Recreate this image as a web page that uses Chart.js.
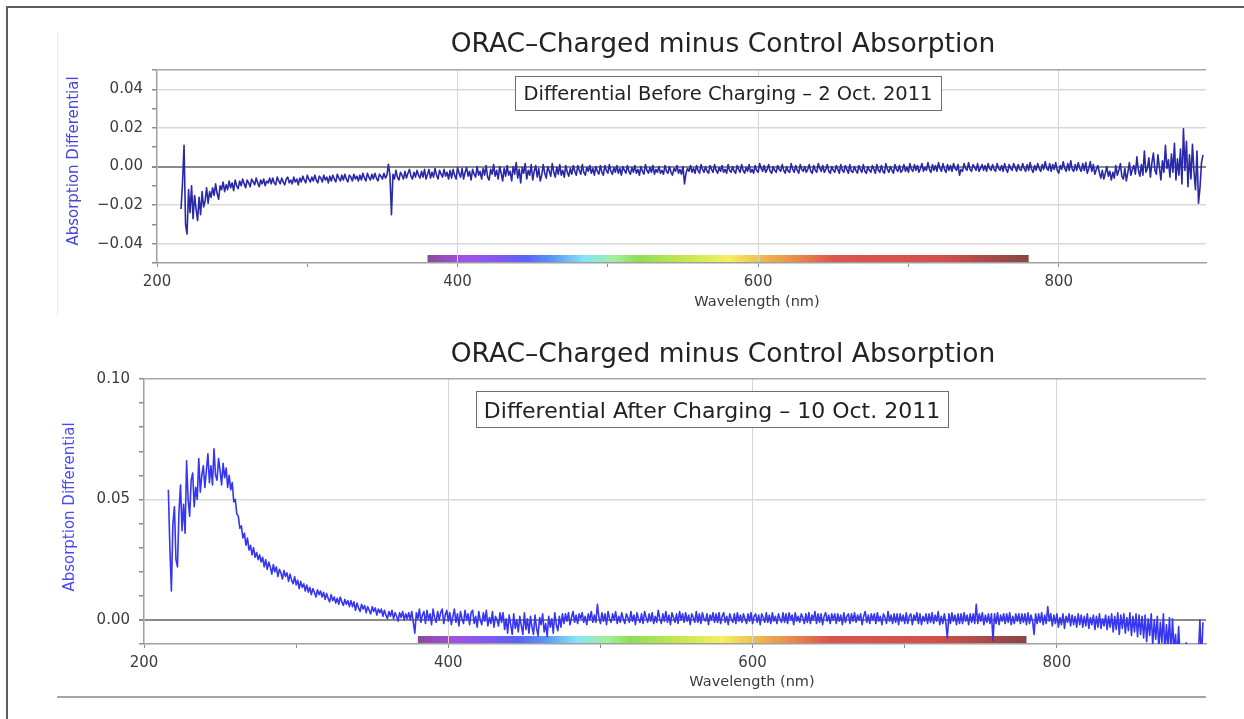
<!DOCTYPE html>
<html lang="en">
<head>
<meta charset="UTF-8">
<title>ORAC-Charged minus Control Absorption</title>
<script src="https://cdn.jsdelivr.net/npm/chart.js"></script>
<style>
    body {
        margin: 0;
        background: #ffffff;
        font-family: "DejaVu Sans", sans-serif;
    }

    .page {
        position: relative;
        width: 1244px;
        height: 719px;
        overflow: hidden;
        background: #ffffff;
    }

    canvas {
        position: absolute;
        left: 0;
    }

    #chartBefore { top: 0; }
    #chartAfter { top: 320px; }

    /* frame and crop edges of the pasted screenshots */
    .frame-top { position: absolute; left: 6px; top: 6px; width: 1238px; height: 2px; background: #5c5c5c; }
    .frame-left { position: absolute; left: 6px; top: 6px; width: 2px; height: 713px; background: #5c5c5c; }
    .crop-edge { position: absolute; left: 57px; top: 32px; width: 1px; height: 284px; background: #ececec; }
    .crop-bottom { position: absolute; left: 57px; top: 696px; width: 1149px; height: 2px; background: #a6a6a6; }
</style>
</head>
<body>
<div class="page">
    <canvas id="chartBefore" width="1244" height="320"></canvas>
    <canvas id="chartAfter" width="1244" height="399"></canvas>
    <div class="frame-top"></div>
    <div class="frame-left"></div>
    <div class="crop-edge"></div>
    <div class="crop-bottom"></div>
</div>

<script>
    // sampling grid of the spectrometer (nm)
    const wavelengthStartNm = 216;
    const wavelengthStepNm = 1;

    // Differential before charging - 2 Oct. 2011 (216..896 nm, one row = 20 nm)
    const beforeCharging = [
        -0.022, -0.008, 0.011, -0.030, -0.035, -0.012, -0.024, -0.010, -0.027, -0.015, -0.022, -0.028, -0.016, -0.025, -0.013, -0.021, -0.018, -0.011, -0.019, -0.013,
        -0.016, -0.011, -0.015, -0.009, -0.014, -0.017, -0.010, -0.012, -0.008, -0.013, -0.0095, -0.012, -0.0075, -0.011, -0.0085, -0.0125, -0.007, -0.010, -0.0115, -0.0075,
        -0.010, -0.0065, -0.009, -0.011, -0.007, -0.0085, -0.0105, -0.0065, -0.008, -0.0095, -0.006, -0.0085, -0.0105, -0.007, -0.009, -0.0065, -0.010, -0.0075, -0.0085, -0.006,
        -0.009, -0.006, -0.0085, -0.0095, -0.0055, -0.0075, -0.009, -0.006, -0.008, -0.0095, -0.0065, -0.0055, -0.0085, -0.007, -0.009, -0.0055, -0.008, -0.0065, -0.0095, -0.006,
        -0.008, -0.005, -0.007, -0.0085, -0.0045, -0.0065, -0.008, -0.0055, -0.0075, -0.0045, -0.007, -0.0085, -0.005, -0.006, -0.008, -0.0045, -0.007, -0.0055, -0.0085, -0.005,
        -0.0075, -0.0045, -0.0065, -0.008, -0.004, -0.006, -0.0075, -0.0045, -0.007, -0.004, -0.0065, -0.008, -0.0045, -0.0055, -0.0075, -0.004, -0.0065, -0.005, -0.0075, -0.0045,
        -0.007, -0.0035, -0.006, -0.0075, -0.0035, -0.0055, -0.007, -0.004, -0.0065, -0.0035, -0.006, -0.0075, -0.004, -0.005, -0.0065, -0.0035, -0.006, -0.0045, 0.0012, -0.0045,
        -0.025, -0.004, -0.0065, -0.002, -0.0055, -0.007, -0.003, -0.0045, -0.0065, -0.0025, -0.006, -0.0035, -0.0015, -0.005, -0.0065, -0.003, -0.0055, -0.002, -0.0045, -0.006,
        -0.0025, -0.0055, -0.0015, -0.0065, -0.004, -0.0015, -0.006, -0.003, -0.0055, -0.001, -0.0045, -0.0065, -0.002, -0.004, -0.0055, -0.0015, -0.005, -0.003, -0.0065, -0.002,
        -0.006, -0.0015, -0.0045, -0.0065, -0.0005, -0.0035, -0.0055, -0.001, -0.0065, -0.003, -0.0005, -0.005, -0.0025, -0.007, -0.0015, -0.004, -0.0055, 0.0, -0.0045, -0.0025,
        -0.0065, -0.001, -0.0045, 0.0005, -0.0055, -0.007, -0.0015, -0.004, 0.001, -0.005, -0.002, -0.0065, 0.0, -0.0035, -0.0075, -0.001, -0.005, 0.0005, -0.0045, -0.0025,
        -0.0075, 0.0, -0.004, 0.002, -0.006, -0.0015, -0.0085, -0.0005, -0.0035, 0.0015, -0.0065, -0.002, -0.0045, 0.001, -0.007, -0.0025, 0.0005, -0.0055, -0.001, -0.0075,
        -0.0045, 0.001, -0.0035, -0.006, 0.0, -0.0025, -0.005, 0.0015, -0.003, -0.0055, -0.0005, -0.004, 0.001, -0.0045, -0.002, -0.0055, 0.0005, -0.003, -0.005, -0.001,
        -0.004, 0.0005, -0.0025, -0.0045, 0.0005, -0.002, -0.004, 0.001, -0.003, -0.0045, -0.0005, -0.0025, 0.0005, -0.0035, -0.001, -0.0045, 0.0, -0.0025, -0.004, 0.0005,
        -0.003, -0.0045, 0.0005, -0.002, -0.0035, 0.001, -0.0025, -0.004, -0.0005, -0.003, 0.0005, -0.0035, -0.001, -0.0045, 0.0, -0.002, -0.0035, 0.0005, -0.0025, -0.004,
        -0.0005, -0.003, 0.0005, -0.0035, -0.0015, -0.0045, 0.0, -0.0025, -0.004, 0.001, -0.002, -0.0035, -0.0005, -0.003, 0.0005, -0.004, -0.0015, -0.003, 0.0, -0.0035,
        -0.002, -0.004, 0.0005, -0.0025, -0.0035, 0.0, -0.003, -0.0045, -0.001, -0.0025, 0.0005, -0.0035, -0.0015, -0.004, 0.0, -0.009, -0.0035, -0.001, -0.0025, 0.0005,
        -0.003, -0.001, -0.0035, 0.0005, -0.002, -0.0035, 0.001, -0.0015, -0.003, 0.0, -0.0025, -0.0035, 0.0005, -0.0015, -0.003, 0.001, -0.002, -0.0035, -0.0005, -0.0025,
        0.0005, -0.003, -0.0015, -0.0035, 0.001, -0.002, -0.003, 0.0, -0.0025, -0.0035, 0.0005, -0.0015, -0.003, 0.001, -0.002, -0.0035, -0.0005, -0.0025, 0.001, -0.003,
        -0.0015, -0.0035, 0.0005, -0.002, -0.003, 0.0015, -0.001, -0.0025, 0.0005, -0.003, -0.0015, 0.001, -0.0025, -0.0035, 0.0, -0.002, -0.003, 0.0005, -0.0015, -0.0025,
        0.001, -0.002, -0.0035, 0.0, -0.0025, -0.003, 0.0015, -0.0015, -0.003, 0.0005, -0.002, -0.0035, 0.001, -0.0015, -0.0025, 0.0, -0.003, -0.0015, 0.001, -0.0025,
        -0.0035, 0.0005, -0.002, -0.003, 0.0015, -0.001, -0.0025, 0.0005, -0.003, -0.0015, 0.001, -0.0025, -0.0035, 0.0, -0.002, -0.003, 0.0005, -0.0015, -0.0035, 0.001,
        -0.002, -0.003, 0.0005, -0.0015, -0.0035, 0.001, -0.0025, -0.003, 0.0, -0.002, -0.0035, 0.0005, -0.0015, -0.003, 0.001, -0.0025, -0.0035, 0.0, -0.002, -0.003,
        0.0005, -0.0015, -0.0035, 0.001, -0.002, -0.003, 0.0005, -0.0025, -0.0035, 0.0015, -0.0015, -0.003, 0.0, -0.002, -0.0035, 0.001, -0.0015, -0.0025, 0.0005, -0.003,
        -0.002, 0.001, -0.0025, -0.0005, -0.003, 0.0015, -0.0015, -0.0025, 0.001, -0.002, 0.0005, -0.003, -0.001, 0.0015, -0.0025, -0.0005, -0.002, 0.002, -0.0015, -0.003,
        0.001, -0.002, 0.0005, -0.0025, 0.002, -0.001, -0.0025, 0.0015, -0.0015, -0.003, 0.001, -0.002, 0.0005, -0.0025, 0.0015, -0.001, -0.002, 0.001, -0.0045, -0.0015,
        -0.0025, 0.0015, -0.001, -0.002, 0.002, -0.0015, -0.0025, 0.001, -0.0005, -0.002, 0.0015, -0.0025, -0.001, 0.001, -0.002, 0.0005, -0.0025, 0.0015, -0.001, -0.002,
        0.001, -0.0015, -0.0025, 0.0015, -0.001, -0.002, 0.0005, -0.0025, 0.0015, -0.0015, -0.003, 0.001, -0.001, -0.002, 0.0015, -0.0005, -0.0025, 0.001, -0.0015, -0.002,
        0.0015, -0.001, -0.0025, 0.001, -0.002, 0.002, -0.0015, -0.003, 0.0005, -0.002, 0.0015, -0.001, -0.0025, 0.001, -0.0015, 0.0025, -0.001, -0.002, 0.0015, -0.0025,
        0.001, -0.0015, 0.002, -0.002, -0.0035, 0.0005, -0.0015, 0.0025, -0.001, -0.0025, 0.0015, -0.002, 0.003, -0.0015, -0.0025, 0.001, -0.002, 0.002, -0.001, -0.0025,
        0.0015, -0.002, 0.002, -0.0035, -0.001, 0.0025, -0.0025, 0.001, -0.004, -0.0015, 0.0005, -0.003, -0.006, -0.002, -0.0065, -0.0035, 0.0, -0.005, -0.0025, -0.007,
        -0.003, -0.006, 0.0005, -0.0045, -0.002, 0.0015, -0.005, -0.0065, -0.001, -0.0075, -0.003, 0.002, -0.0045, -0.0015, 0.0005, -0.004, 0.005, -0.002, -0.005, 0.001,
        -0.0045, 0.008, -0.003, -0.001, 0.0045, -0.0055, 0.002, 0.007, -0.002, -0.004, 0.006, -0.0005, -0.007, 0.003, -0.003, 0.011, -0.001, 0.0035, -0.0055, 0.0065,
        -0.003, 0.012, -0.007, 0.004, -0.0045, 0.009, -0.009, 0.0195, -0.002, 0.013, -0.0105, 0.006, -0.0065, 0.0115, -0.003, -0.012, 0.008, -0.019, -0.011, 0.002,
        0.006
    ];

    // Differential after charging - 10 Oct. 2011 (216..896 nm, one row = 20 nm)
    const afterCharging = [
        0.054, 0.030, 0.012, 0.040, 0.047, 0.025, 0.022, 0.045, 0.056, 0.037, 0.048, 0.036, 0.066, 0.050, 0.043, 0.058, 0.061, 0.047, 0.055, 0.050,
        0.067, 0.053, 0.060, 0.064, 0.055, 0.062, 0.069, 0.057, 0.064, 0.056, 0.071, 0.060, 0.058, 0.067, 0.062, 0.056, 0.065, 0.059, 0.063, 0.055,
        0.060, 0.054, 0.057, 0.049, 0.050, 0.044, 0.043, 0.038, 0.039, 0.034, 0.036, 0.031, 0.034, 0.029, 0.031, 0.027, 0.030, 0.026, 0.028, 0.025,
        0.027, 0.024, 0.026, 0.022, 0.025, 0.021, 0.024, 0.022, 0.019, 0.023, 0.020, 0.022, 0.018, 0.021, 0.0195, 0.017, 0.0205, 0.018, 0.0195, 0.016,
        0.019, 0.0165, 0.015, 0.018, 0.0145, 0.0165, 0.013, 0.016, 0.0135, 0.015, 0.012, 0.0145, 0.0115, 0.0135, 0.0105, 0.013, 0.0115, 0.0095, 0.0125, 0.0105,
        0.012, 0.0095, 0.0115, 0.0085, 0.011, 0.009, 0.0075, 0.0105, 0.008, 0.0095, 0.007, 0.009, 0.0065, 0.0095, 0.0075, 0.006, 0.0085, 0.0065, 0.008, 0.0055,
        0.008, 0.0055, 0.0075, 0.004, 0.007, 0.005, 0.0035, 0.0065, 0.0045, 0.006, 0.003, 0.0055, 0.004, 0.0025, 0.0055, 0.0035, 0.005, 0.002, 0.0045, 0.003,
        0.0045, 0.0015, 0.004, 0.002, 0.0005, 0.0035, 0.0015, 0.004, 0.0005, 0.003, 0.0015, -0.0005, 0.003, 0.001, 0.0035, 0.0, 0.0025, 0.0005, 0.003, 0.0,
        0.0035, -0.001, -0.0055, 0.003, 0.0005, 0.0045, -0.001, 0.002, 0.0035, -0.0015, 0.004, 0.0, 0.0025, -0.002, 0.0045, 0.001, -0.001, 0.0035, 0.0, 0.003,
        0.0045, -0.0015, 0.002, 0.004, -0.0005, 0.003, -0.002, 0.0015, 0.0045, -0.001, 0.0025, -0.0025, 0.0035, 0.0005, -0.0015, 0.004, 0.0, 0.0025, -0.002, 0.003,
        0.004, -0.0015, 0.0015, -0.003, 0.0035, 0.0, -0.002, 0.003, -0.0005, 0.004, -0.0025, 0.001, -0.0015, 0.0035, -0.003, 0.0015, 0.0, -0.0025, 0.003, -0.001,
        0.003, -0.004, 0.0005, -0.0055, 0.002, -0.002, -0.006, 0.0025, -0.0035, 0.0, -0.005, 0.0015, -0.0025, -0.006, 0.003, -0.004, 0.0005, -0.0055, 0.0015, -0.003,
        -0.006, 0.002, -0.0035, -0.0065, 0.001, -0.002, 0.0025, -0.005, -0.0015, -0.007, 0.0015, -0.003, 0.0005, -0.0055, 0.003, -0.002, -0.0045, 0.0015, -0.003, 0.0025,
        -0.0015, 0.0025, -0.0005, 0.003, -0.002, 0.001, 0.0035, -0.001, 0.002, -0.0015, 0.0025, 0.0005, 0.003, -0.001, 0.0015, -0.002, 0.0025, 0.0, 0.0035, -0.001,
        0.002, -0.001, 0.0065, 0.001, -0.0015, 0.003, -0.0005, 0.0025, -0.002, 0.0035, 0.0005, -0.001, 0.0025, 0.0, 0.0035, -0.0015, 0.0015, -0.001, 0.003, 0.0005,
        -0.0015, 0.0025, 0.001, -0.001, 0.0035, -0.0005, 0.002, -0.002, 0.003, 0.0005, -0.001, 0.0025, -0.0015, 0.0035, 0.001, -0.001, 0.0025, -0.0005, 0.003, -0.0015,
        0.0015, -0.001, 0.004, 0.0005, -0.0015, 0.0025, -0.0005, 0.0035, -0.001, 0.002, -0.002, 0.003, 0.001, -0.001, 0.0025, -0.0015, 0.0035, 0.0, 0.0025, -0.001,
        0.003, -0.0005, 0.002, -0.002, 0.0025, 0.001, -0.001, 0.0035, -0.001, 0.0025, -0.0015, 0.003, 0.0005, -0.0005, 0.0025, -0.002, 0.002, 0.0, 0.003, -0.001,
        0.0025, -0.001, 0.003, -0.0015, 0.0015, 0.003, -0.001, 0.0015, -0.002, 0.0025, 0.0005, -0.001, 0.0025, -0.0015, 0.003, -0.0005, 0.002, -0.001, 0.0025, 0.0005,
        -0.0015, 0.0025, -0.0005, 0.003, -0.0015, 0.0015, 0.0025, -0.001, 0.002, -0.002, 0.0025, 0.001, -0.001, 0.003, -0.001, 0.002, -0.0015, 0.003, -0.0005, 0.0015,
        -0.0015, 0.0025, 0.0005, -0.001, 0.003, -0.001, 0.0025, -0.0015, 0.003, 0.0, 0.002, -0.002, 0.003, -0.0005, 0.0015, -0.001, 0.0025, 0.001, -0.0015, 0.0025,
        -0.001, 0.003, -0.0015, 0.002, 0.0, 0.0035, -0.0015, 0.0025, -0.001, 0.0025, -0.002, 0.0015, 0.003, -0.0005, 0.002, -0.0015, 0.0025, 0.0, 0.0025, -0.0015,
        0.0025, -0.0005, 0.002, -0.002, 0.003, -0.001, 0.0015, 0.0025, -0.0015, 0.0025, -0.0005, 0.003, -0.001, 0.002, 0.0, 0.0025, -0.002, 0.0015, 0.0035, -0.001,
        0.002, -0.0015, 0.0025, 0.0, 0.0025, -0.0015, 0.003, -0.0005, 0.0015, -0.002, 0.0025, 0.001, -0.0015, 0.0035, -0.0005, 0.002, -0.0015, 0.0025, -0.001, 0.0025,
        -0.002, 0.0025, -0.0005, 0.002, -0.0015, 0.003, -0.0015, 0.0015, 0.0025, -0.002, 0.002, 0.0, 0.003, -0.0015, 0.0025, -0.002, 0.0015, -0.0005, 0.0025, -0.0015,
        0.0025, -0.001, 0.003, -0.0015, 0.002, -0.0005, 0.0035, -0.002, 0.0015, -0.0015, 0.0025, -0.001, -0.0075, 0.0025, -0.0015, 0.003, -0.0005, 0.002, -0.002, 0.0025,
        -0.0015, 0.0025, -0.0015, 0.003, -0.0005, 0.002, -0.002, 0.0025, -0.001, 0.0025, -0.0015, 0.0065, -0.0015, 0.0025, -0.0005, 0.003, -0.002, 0.002, -0.001, 0.0025,
        -0.0015, 0.0025, -0.0085, 0.0025, -0.0015, 0.003, -0.002, 0.002, -0.0005, 0.0025, -0.0015, 0.0025, -0.001, 0.003, -0.002, 0.0015, -0.0015, 0.0025, -0.0005, 0.0025,
        -0.0015, 0.0025, -0.001, 0.0025, -0.002, 0.003, -0.0015, 0.002, -0.0005, -0.006, 0.0025, -0.0015, 0.0025, -0.001, 0.003, -0.002, 0.002, -0.0015, 0.0055, -0.0005,
        0.0025, -0.0025, 0.002, -0.0015, 0.0025, -0.003, 0.001, -0.002, 0.0025, -0.0035, 0.0015, -0.001, 0.0025, -0.0025, 0.002, -0.002, 0.0015, -0.003, 0.0025, -0.002,
        0.002, -0.003, 0.0015, -0.0025, 0.0025, -0.0035, 0.001, -0.002, 0.002, -0.004, 0.0015, -0.003, 0.0025, -0.0035, 0.0005, -0.0025, 0.002, -0.004, 0.0015, -0.003,
        0.0025, -0.005, 0.0015, -0.004, 0.003, -0.006, 0.002, -0.0035, 0.0025, -0.0055, 0.001, -0.0045, 0.003, -0.0065, 0.0015, -0.005, 0.0025, -0.007, 0.002, -0.006,
        0.0015, -0.0075, 0.002, -0.009, 0.0005, -0.0065, 0.0025, -0.0105, 0.0, -0.008, 0.0015, -0.012, -0.001, -0.0095, 0.0025, -0.0135, -0.002, -0.011, 0.001, -0.014,
        0.0005, -0.013, -0.006, -0.016, -0.0028, -0.015, -0.018, -0.012, -0.016, -0.0095, -0.017, -0.018, -0.016, -0.015, -0.017, -0.016, -0.018, -0.015, 0.0, -0.017,
        -0.001
    ];

    // axes
    const xTickValues = [200, 300, 400, 500, 600, 700, 800];
    const xTickLabels = [200, 400, 600, 800];
    const xGridLines = [400, 600, 800];
    const beforeYTickLabels = [-0.04, -0.02, 0.00, 0.02, 0.04];
    const afterYTickLabels = [0.00, 0.05, 0.10];

    // visible spectrum strip along the x axis
    const visibleBandNm = [380, 780];
    const spectrumStopNm = [380, 405, 430, 445, 462, 485, 505, 520, 550, 580, 605, 630, 650, 720, 780];
    const spectrumStopColors = ['#8a4b98', '#a052e6', '#7a5af4', '#5a62f6', '#5a92f4', '#86e6f4', '#a4ee9a',
        '#8ede56', '#c4e650', '#f6f060', '#ecb64e', '#e8804c', '#dc5450', '#d4504c', '#884646'];

    function toPoints(values) {
        return values.map((y, i) => ({ x: wavelengthStartNm + i * wavelengthStepNm, y: y }));
    }

    function hasValue(list, v) {
        return list.some(t => Math.abs(t - v) < 1e-9);
    }

    function fmtTick(v) {
        const s = Math.abs(v).toFixed(2);
        return v < -1e-9 ? '\u2212' + s : s;
    }

    // spectrum strip drawn under grid and data
    const spectrumBar = {
        id: 'spectrumBar',
        beforeDraw(chart, args, opts) {
            const xs = chart.scales.x;
            const area = chart.chartArea;
            const ctx = chart.ctx;
            const x1 = xs.getPixelForValue(visibleBandNm[0]);
            const x2 = xs.getPixelForValue(visibleBandNm[1]);
            const span = visibleBandNm[1] - visibleBandNm[0];
            const g = ctx.createLinearGradient(x1, 0, x2, 0);
            spectrumStopNm.forEach((nm, i) => g.addColorStop((nm - visibleBandNm[0]) / span, spectrumStopColors[i]));
            ctx.save();
            ctx.fillStyle = g;
            ctx.fillRect(x1, area.bottom - opts.height, x2 - x1, opts.height);
            ctx.restore();
        }
    };

    // title, note box and axis titles
    const panelText = {
        id: 'panelText',
        afterDraw(chart, args, o) {
            const ctx = chart.ctx;
            ctx.save();
            ctx.textBaseline = 'alphabetic';
            ctx.textAlign = 'center';

            ctx.fillStyle = '#232323';
            ctx.font = '26.5px "DejaVu Sans"';
            ctx.fillText(o.title, o.titleX, o.titleY);

            const b = o.noteBox;
            ctx.fillStyle = '#ffffff';
            ctx.fillRect(b[0], b[1], b[2], b[3]);
            ctx.strokeStyle = '#6e6e6e';
            ctx.lineWidth = 1;
            ctx.strokeRect(b[0] + 0.5, b[1] + 0.5, b[2], b[3]);
            ctx.fillStyle = '#222222';
            ctx.font = o.noteSize + 'px "DejaVu Sans"';
            ctx.fillText(o.note, b[0] + b[2] / 2, o.noteBaseline);

            ctx.fillStyle = '#3a3a3a';
            ctx.font = '14.5px "DejaVu Sans"';
            ctx.fillText('Wavelength (nm)', o.xTitleX, o.xTitleY);

            ctx.translate(o.yTitleX, o.yTitleY);
            ctx.rotate(-Math.PI / 2);
            ctx.textBaseline = 'middle';
            ctx.fillStyle = o.yTitleColor;
            ctx.font = '15px "DejaVu Sans"';
            ctx.fillText('Absorption Differential', 0, 0);
            ctx.restore();
        }
    };

    function makePanel(canvasId, cfg) {
        const tickFont = { family: 'DejaVu Sans', size: 15 };
        return new Chart(document.getElementById(canvasId), {
            type: 'line',
            data: {
                datasets: [{
                    data: toPoints(cfg.values),
                    borderColor: cfg.lineColor,
                    borderWidth: 1.6,
                    borderJoinStyle: 'round',
                    pointRadius: 0,
                    tension: 0,
                    fill: false
                }]
            },
            options: {
                responsive: false,
                animation: false,
                devicePixelRatio: 1,
                events: [],
                layout: { padding: { top: cfg.areaTop, right: 38, left: 0, bottom: 0 } },
                plugins: {
                    legend: { display: false },
                    tooltip: { enabled: false },
                    spectrumBar: { height: 8 },
                    panelText: cfg.text
                },
                scales: {
                    x: {
                        type: 'linear',
                        min: 200,
                        max: 898,
                        afterBuildTicks: s => { s.ticks = xTickValues.map(v => ({ value: v })); },
                        afterFit: s => { s.height = cfg.xAxisHeight; },
                        border: { color: '#a0a0a0', width: 1.5 },
                        grid: {
                            color: c => (c.tick && hasValue(xGridLines, c.tick.value)) ? '#d6d6d6' : 'rgba(0,0,0,0)',
                            tickColor: '#8c8c8c',
                            tickLength: 4
                        },
                        ticks: {
                            autoSkip: false,
                            maxRotation: 0,
                            padding: 6,
                            color: '#3c3c3c',
                            font: tickFont,
                            callback: v => hasValue(xTickLabels, v) ? String(v) : ''
                        }
                    },
                    y: {
                        min: cfg.yMin,
                        max: cfg.yMax,
                        afterFit: s => { s.width = cfg.yAxisWidth; },
                        border: { color: '#a0a0a0', width: 1.5 },
                        grid: {
                            color: c => {
                                if (!c.tick) return 'rgba(0,0,0,0)';
                                const v = c.tick.value;
                                if (Math.abs(v) < 1e-9) return '#8a8a8a';
                                if (Math.abs(v - cfg.yMax) < 1e-9) return '#a8a8a8';
                                return hasValue(cfg.yLabels, v) ? '#d9d9d9' : 'rgba(0,0,0,0)';
                            },
                            lineWidth: c => (c.tick && Math.abs(c.tick.value) < 1e-9) ? 2 : 1.5,
                            tickColor: '#8c8c8c',
                            tickLength: 5
                        },
                        ticks: {
                            stepSize: 0.01,
                            autoSkip: false,
                            padding: 9,
                            color: '#3c3c3c',
                            font: tickFont,
                            callback: v => hasValue(cfg.yLabels, v) ? fmtTick(v) : ''
                        }
                    }
                }
            },
            plugins: [spectrumBar, panelText]
        });
    }

    makePanel('chartBefore', {
        values: beforeCharging,
        lineColor: '#2828a8',
        yMin: -0.05,
        yMax: 0.05,
        yLabels: beforeYTickLabels,
        areaTop: 70,
        xAxisHeight: 57,
        yAxisWidth: 157,
        text: {
            title: 'ORAC\u2013Charged minus Control Absorption',
            titleX: 723, titleY: 52,
            note: 'Differential Before Charging \u2013 2 Oct. 2011',
            noteBox: [515, 76, 426, 34], noteSize: 19.5, noteBaseline: 100,
            xTitleX: 757, xTitleY: 306,
            yTitleX: 74, yTitleY: 161,
            yTitleColor: '#4646e0'
        }
    });

    makePanel('chartAfter', {
        values: afterCharging,
        lineColor: '#3535f2',
        yMin: -0.01,
        yMax: 0.10,
        yLabels: afterYTickLabels,
        areaTop: 59,
        xAxisHeight: 75,
        yAxisWidth: 144,
        text: {
            title: 'ORAC\u2013Charged minus Control Absorption',
            titleX: 723, titleY: 42,
            note: 'Differential After Charging \u2013 10 Oct. 2011',
            noteBox: [476, 71, 472, 36], noteSize: 22, noteBaseline: 98,
            xTitleX: 752, xTitleY: 366,
            yTitleX: 70, yTitleY: 187,
            yTitleColor: '#4a4af2'
        }
    });
</script>
</body>
</html>
